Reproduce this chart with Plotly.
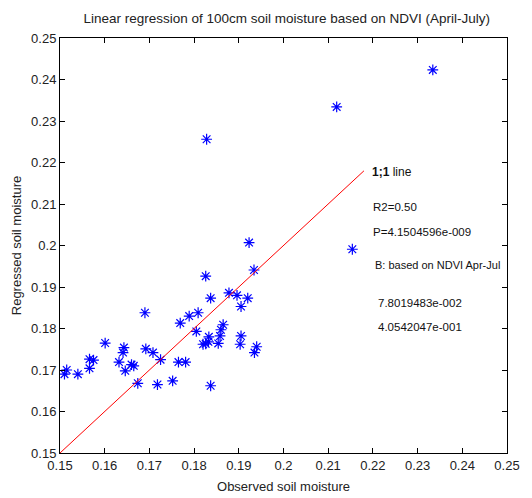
import plotly.graph_objects as go

# Observed (x) and regressed (y) soil moisture
observed = [0.1515, 0.1510, 0.1540, 0.1566, 0.1575, 0.1566, 0.1601, 0.1632, 0.1643, 0.1641,
            0.1646, 0.1660, 0.1665, 0.1674, 0.1690, 0.1692, 0.1708, 0.1725, 0.1718, 0.1752,
            0.1765, 0.1781, 0.1769, 0.1789, 0.1809, 0.1805, 0.1826, 0.1832, 0.1833, 0.1820,
            0.1854, 0.1858, 0.1860, 0.1865, 0.1826, 0.1837, 0.1878, 0.1896, 0.1920, 0.1905,
            0.1934, 0.1905, 0.1903, 0.1940, 0.1935, 0.1837, 0.1923, 0.2154, 0.1828, 0.2119,
            0.2334]
regressed = [0.1700, 0.1690, 0.1690, 0.1726, 0.1724, 0.1704, 0.1765, 0.1719, 0.1754, 0.1742,
             0.1698, 0.1713, 0.1710, 0.1668, 0.1838, 0.1751, 0.1742, 0.1725, 0.1665, 0.1674,
             0.1719, 0.1719, 0.1813, 0.1830, 0.1838, 0.1793, 0.1763, 0.1768, 0.1780, 0.1762,
             0.1764, 0.1782, 0.1797, 0.1809, 0.1926, 0.1873, 0.1886, 0.1880, 0.1873, 0.1853,
             0.1941, 0.1782, 0.1762, 0.1756, 0.1742, 0.1662, 0.2007, 0.1991, 0.2256, 0.2334,
             0.2423]

line_x = [0.15, 0.218]
line_y = [0.15, 0.218]

tick_vals = [0.15, 0.16, 0.17, 0.18, 0.19, 0.20, 0.21, 0.22, 0.23, 0.24, 0.25]
tick_text = ["0.15", "0.16", "0.17", "0.18", "0.19", "0.2", "0.21", "0.22", "0.23", "0.24", "0.25"]

title_text = "Linear regression of 100cm soil moisture based on NDVI (April-July)"
x_title = "Observed soil moisture"
y_title = "Regressed soil moisture"

notes = [
    ("<b>1;1</b> line", 0.2193, 0.2177, 12),
    ("R2=0.50", 0.2196, 0.2093, 11.5),
    ("P=4.1504596e-009", 0.2196, 0.2033, 11.5),
    ("B: based on NDVI Apr-Jul", 0.2200, 0.1953, 11),
    ("7.8019483e-002", 0.2207, 0.1861, 11.5),
    ("4.0542047e-001", 0.2207, 0.1804, 11.5),
]

FONT = "Liberation Sans, Arial, sans-serif"

fig = go.Figure()
fig.add_trace(go.Scatter(x=observed, y=regressed, mode="markers",
                         marker=dict(symbol="asterisk-open", size=9, color="#0000ff",
                                     line=dict(color="#0000ff", width=1.2)),
                         showlegend=False))
fig.add_trace(go.Scatter(x=line_x, y=line_y, mode="lines",
                         line=dict(color="#ff0000", width=1), showlegend=False))

for txt, x, y, sz in notes:
    fig.add_annotation(x=x, y=y, xref="x", yref="y", text=txt, showarrow=False,
                       xanchor="left", yanchor="middle",
                       font=dict(family=FONT, size=sz, color="#111111"))

axis_common = dict(range=[0.15, 0.25], tickvals=tick_vals, ticktext=tick_text,
                   ticks="inside", ticklen=5, tickcolor="black", showline=True,
                   linecolor="black", linewidth=1, mirror="ticks", showgrid=False,
                   zeroline=False, automargin=False,
                   tickfont=dict(family=FONT, size=13, color="#222222"))

# the page body adds an 8px offset, so the figure is sized to fit the 532x498 window
fig.update_layout(
    width=524, height=490,
    margin=dict(l=52, r=25, t=30, b=45),
    paper_bgcolor="white", plot_bgcolor="white",
    title=dict(text=title_text, x=0.532, xanchor="center", y=0.98, yanchor="middle",
               font=dict(family=FONT, size=13.5, color="#222222")),
    xaxis=dict(**axis_common, title=dict(text=x_title, standoff=10,
                                         font=dict(family=FONT, size=13, color="#222222"))),
    yaxis=dict(**axis_common, title=dict(text=y_title, standoff=6,
                                         font=dict(family=FONT, size=13, color="#222222"))),
)

fig.write_html("out.html")
